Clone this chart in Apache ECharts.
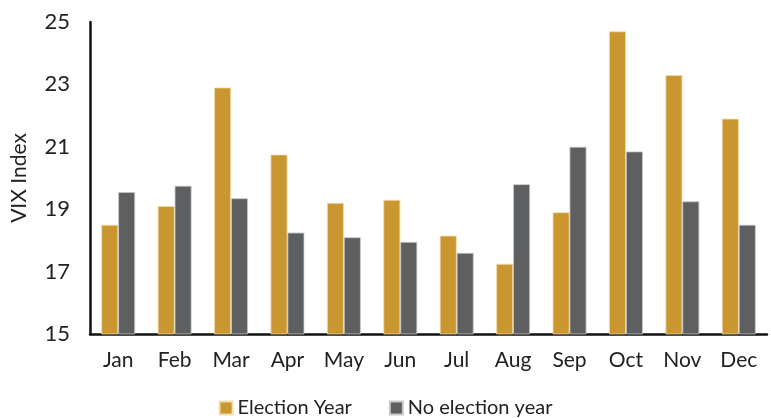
<!DOCTYPE html>
<html>
<head>
<meta charset="utf-8">
<script src="https://cdn.jsdelivr.net/npm/echarts@6/dist/echarts.min.js"></script>
<style>
html,body{margin:0;padding:0;background:#fff;}
#chart{width:771px;height:418px;}
</style>
</head>
<body>
<div id="chart"></div>
<script>
const categories = ['Jan','Feb','Mar','Apr','May','Jun','Jul','Aug','Sep','Oct','Nov','Dec'];
const electionYear = [18.5, 19.1, 22.9, 20.75, 19.2, 19.3, 18.15, 17.25, 18.9, 24.7, 23.3, 21.9];
const noElectionYear = [19.55, 19.75, 19.35, 18.25, 18.1, 17.95, 17.6, 19.8, 21.0, 20.85, 19.25, 18.5];
const seriesNames = ['Election Year', 'No election year'];
const yMin = 15, yMax = 25, yStep = 2;

const FONT = 'Lato, "Open Sans", sans-serif';
const chart = echarts.init(document.getElementById('chart'));
chart.setOption({
  animation: false,
  grid: {left: 90, right: 4, top: 22, bottom: 84, containLabel: false},
  legend: {
    top: 398, left: 'center', padding: [0, 5, 0, 5],
    itemWidth: 13, itemHeight: 13, itemGap: 37,
    icon: 'rect',
    textStyle: {fontFamily: FONT, fontSize: 20, color: '#222'},
    data: seriesNames
  },
  xAxis: {
    type: 'category', data: categories,
    axisLine: {lineStyle: {color: '#111', width: 2.5}},
    axisTick: {show: false},
    axisLabel: {fontFamily: FONT, fontSize: 21, color: '#222', margin: 16}
  },
  yAxis: {
    type: 'value', min: yMin, max: yMax, interval: yStep,
    name: 'VIX Index', nameLocation: 'middle', nameGap: 60,
    nameTextStyle: {fontFamily: FONT, fontSize: 21, color: '#222'},
    axisLine: {show: true, lineStyle: {color: '#111', width: 2.5}},
    axisTick: {show: false},
    splitLine: {show: false},
    axisLabel: {fontFamily: FONT, fontSize: 22, color: '#222', margin: 20}
  },
  series: [
    {name: seriesNames[0], type: 'bar', data: electionYear, barWidth: '30%', barGap: '0%',
     itemStyle: {color: '#C9962F', borderColor: '#F0DDB0', borderWidth: 0.8}},
    {name: seriesNames[1], type: 'bar', data: noElectionYear, barWidth: '30%', barGap: '0%',
     itemStyle: {color: '#5E5F61', borderColor: '#C8C8C8', borderWidth: 0.8}}
  ]
});
</script>
</body>
</html>
